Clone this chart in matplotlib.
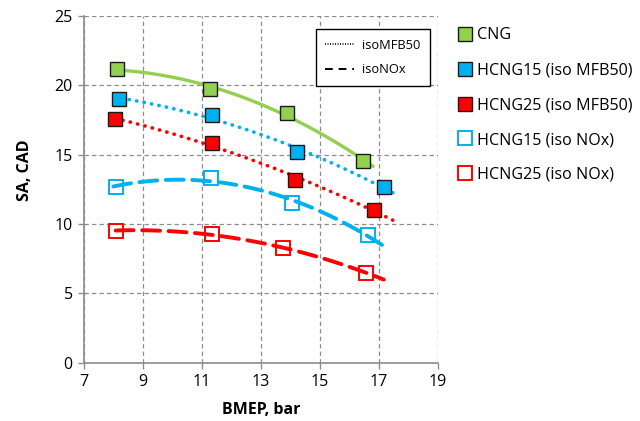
import numpy as np
import matplotlib.pyplot as plt
from matplotlib.lines import Line2D

# spark advance vs load for CNG and the two HCNG blends
bmep_cng = [8.11, 11.27, 13.89, 16.47]
sa_cng = [21.17, 19.71, 18.03, 14.56]

bmep_h15_mfb = [8.18, 11.33, 14.23, 17.17]
sa_h15_mfb = [19.01, 17.88, 15.17, 12.69]

bmep_h25_mfb = [8.07, 11.34, 14.16, 16.85]
sa_h25_mfb = [17.55, 15.86, 13.17, 11.01]

bmep_h15_nox = [8.10, 11.31, 14.07, 16.63]
sa_h15_nox = [12.69, 13.29, 11.49, 9.21]

bmep_h25_nox = [8.08, 11.35, 13.74, 16.58]
sa_h25_nox = [9.52, 9.26, 8.25, 6.49]

labels = ['CNG', 'HCNG15 (iso MFB50)', 'HCNG25 (iso MFB50)',
          'HCNG15 (iso NOx)', 'HCNG25 (iso NOx)']

green = '#92D050'
blue = '#00B0F0'
red = '#FF0000'

plt.rcParams['font.family'] = ['Open Sans', 'DejaVu Sans']

fig = plt.figure(figsize=(6.4, 4.21), dpi=100)
ax = fig.add_axes([0.131, 0.1385, 0.553, 0.8235])

# (x, y, colour, filled, trend style, trend backward, trend forward)
series = [
    (bmep_cng, sa_cng, green, True, '-', 0.0, 0.34),
    (bmep_h15_mfb, sa_h15_mfb, blue, True, ':', -0.1, 0.34),
    (bmep_h25_mfb, sa_h25_mfb, red, True, ':', 0.0, 0.63),
    (bmep_h15_nox, sa_h15_nox, blue, False, '--', 0.1, 0.54),
    (bmep_h25_nox, sa_h25_nox, red, False, '--', 0.0, 0.59),
]

handles = []
for (x, y, c, filled, ls, back, fwd), lab in zip(series, labels):
    # second order trendline through each set
    p = np.polyfit(x, y, 2)
    xs = np.linspace(min(x) - back, max(x) + fwd, 100)
    if ls == '-':
        ax.plot(xs, np.polyval(p, xs), color=c, lw=2.4, solid_capstyle='round', zorder=2)
    elif ls == ':':
        ax.plot(xs, np.polyval(p, xs), color=c, lw=2.6, dashes=(0.1, 2.0),
                dash_capstyle='round', zorder=2)
    else:
        ax.plot(xs, np.polyval(p, xs), color=c, lw=2.8, dashes=(4.6, 2.2),
                dash_capstyle='round', zorder=2)
    if filled:
        h, = ax.plot(x, y, 's', ms=9.5, mfc=c, mec='#1a1a1a', mew=1.0, ls='none', zorder=3, label=lab)
    else:
        h, = ax.plot(x, y, 's', ms=9.5, mfc='none', mec=c, mew=1.4, ls='none', zorder=3, label=lab)
    handles.append(h)

ax.set_xlim(7, 19)
ax.set_ylim(0, 25)
ax.set_xticks(range(7, 20, 2))
ax.set_yticks(range(0, 26, 5))
ax.grid(True, ls=(0, (3.5, 2.5)), color='#8c8c8c', lw=0.9)
ax.set_axisbelow(True)
for s in ['top', 'right']:
    ax.spines[s].set_visible(False)
for s in ['left', 'bottom']:
    ax.spines[s].set_color('#8c8c8c')
    ax.spines[s].set_linewidth(1.2)
ax.tick_params(colors='#8c8c8c', labelcolor='black', labelsize=11.5, length=4.5, width=1)

ax.set_xlabel('BMEP, bar', fontsize=11.5, fontweight='bold')
ax.set_ylabel('SA, CAD', fontsize=11.5, fontweight='bold')
ax.xaxis.set_label_coords(0.5, -0.113)
ax.yaxis.set_label_coords(-0.145, 0.556)

# series legend outside the axes
fig.legend(handles=handles, labels=labels, loc='upper left', bbox_to_anchor=(0.705, 0.95),
           frameon=False, fontsize=11.6, labelspacing=1.17, handlelength=0.9,
           handletextpad=0.3, borderaxespad=0)

# line style key inside the plot
key = [Line2D([], [], color='black', lw=1.2, dashes=(0.6, 0.9)),
       Line2D([], [], color='black', lw=1.4, dashes=(4, 3))]
leg = ax.legend(key, ['isoMFB50', 'isoNOx'], loc='upper right', bbox_to_anchor=(0.977, 0.9625),
                borderaxespad=0, fontsize=9.3, fancybox=False, edgecolor='black', framealpha=1,
                handlelength=2.2, handletextpad=0.6, labelspacing=0.9, borderpad=0.75)
leg.get_frame().set_linewidth(1.0)

fig.savefig('out.png', dpi=100)
